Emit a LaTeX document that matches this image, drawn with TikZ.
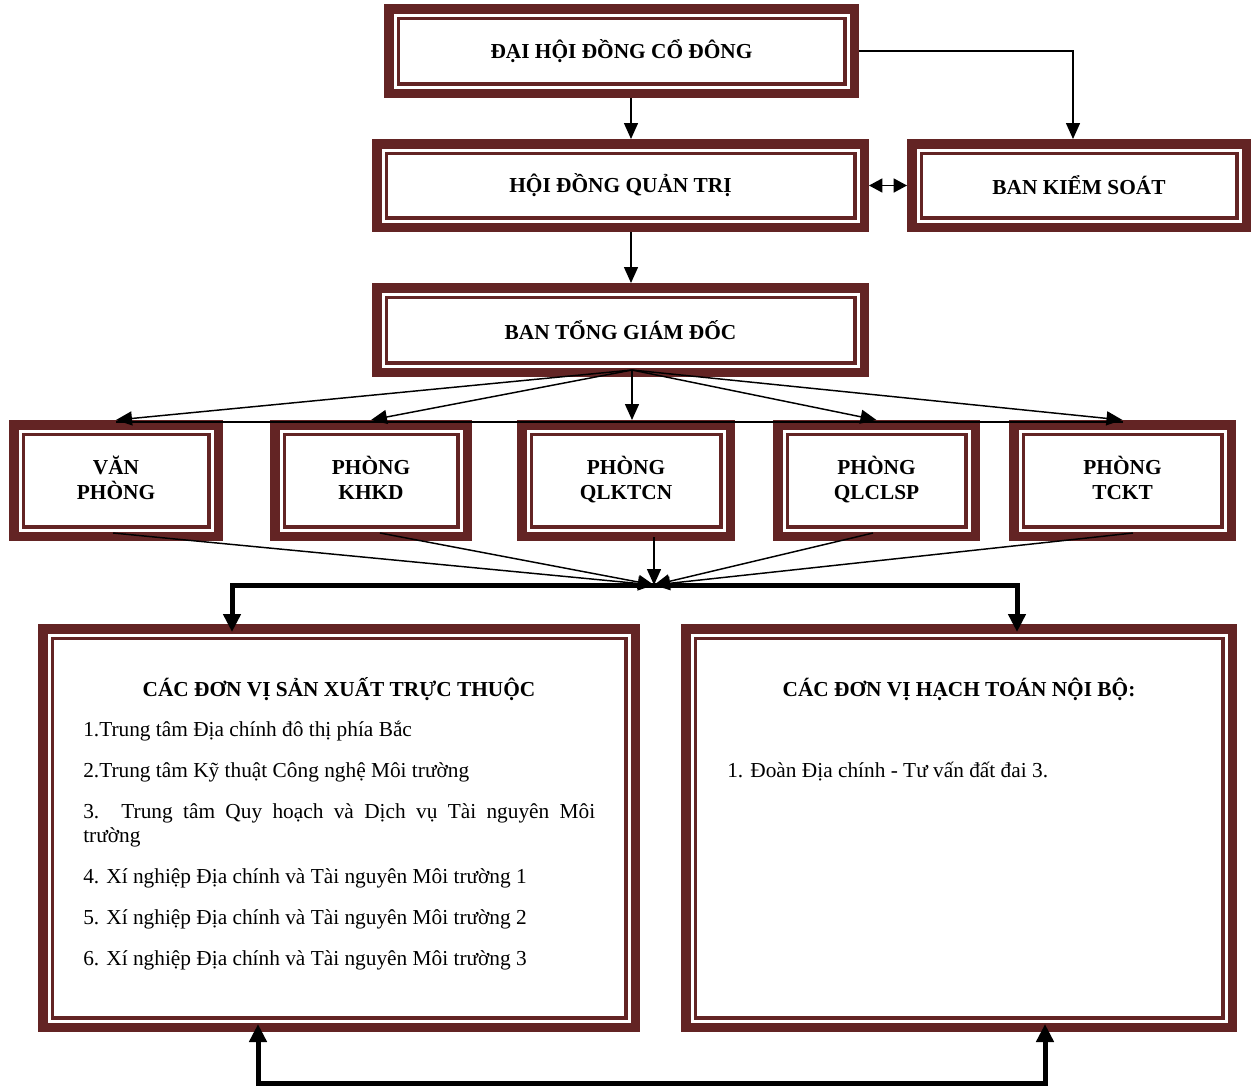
\documentclass[tikz,border=0pt]{standalone}
\usepackage{fontspec}
\setmainfont{Liberation Serif}
\usetikzlibrary{arrows.meta,positioning,calc}
\definecolor{boxred}{RGB}{99,36,36}
\newdimen\px \px=0.75pt
\newcommand{\headfont}{\fontsize{16}{18.75}\selectfont\bfseries}
\newcommand{\bodyfont}{\fontsize{16}{18}\selectfont\hyphenpenalty=10000 }

\begin{document}
\begin{tikzpicture}[
    x=0.75pt, y=-0.75pt,
    box/.style={draw=boxred, line width=9.5\px, fill=white, inner sep=0pt, align=center, font=\headfont,
        path picture={\draw[boxred, line width=3.5\px]
            ([shift={(9.5\px,9.5\px)}]path picture bounding box.south west) rectangle
            ([shift={(-9.5\px,-9.5\px)}]path picture bounding box.north east);}},
    dept/.style={box, minimum height=111.5\px, text height=30.75pt, text depth=3pt},
    wh/.style 2 args={minimum width=#1\px, minimum height=#2\px},
    head/.style={font=\headfont, inner sep=0pt},
    list/.style={font=\bodyfont, align=justify, inner sep=0pt},
    arrow/.style={-{Triangle[length=12pt,width=10.5pt]}, line width=1.1pt},
    darrow/.style={{Triangle[length=10pt,width=10.5pt]}-{Triangle[length=10pt,width=10.5pt]}, line width=1.1pt},
    bigarrow/.style={-{Triangle[length=13.5pt,width=12.75pt]}, line width=3.75pt, shorten >=-6pt},
    bigdarrow/.style={{Triangle[length=13.5pt,width=12.75pt]}-{Triangle[length=13.5pt,width=12.75pt]},
        line width=3.75pt, shorten >=-6pt, shorten <=-6pt},
    thinline/.style={line width=0.8pt}
]
    \useasboundingbox (0,0) rectangle (1257,1086);

    % top levels
    \node[box, wh={465.5}{84.5}] (dhdcd) at (621.5,51) {ĐẠI HỘI ĐỒNG CỔ ĐÔNG};
    \node[box, wh={487.5}{83.5}] (hdqt) at (620.5,185.5) {HỘI ĐỒNG QUẢN TRỊ};
    \node[box, wh={334.5}{83.5}, right=38\px of hdqt] (bks) {BAN KIỂM SOÁT};
    \node[box, wh={487.5}{84.5}] (btgd) at (620.5,330) {BAN TỔNG GIÁM ĐỐC};

    % departments
    \node[dept, minimum width=204.5\px] (vp) at (116,480.5) {VĂN\\PHÒNG};
    \node[dept, minimum width=192.5\px] (khkd) at (371,480.5) {PHÒNG\\KHKD};
    \node[dept, minimum width=208.5\px] (qlktcn) at (626,480.5) {PHÒNG\\QLKTCN};
    \node[dept, minimum width=197.5\px] (qlclsp) at (876.5,480.5) {PHÒNG\\QLCLSP};
    \node[dept, minimum width=217.5\px] (tckt) at (1122.5,480.5) {PHÒNG\\TCKT};

    % units
    \node[box, wh={592.5}{398.5}] (sx) at (339,828) {};
    \node[box, wh={546.5}{398.5}] (ht) at (959,828) {};
    \node[head, anchor=base] (sxhead) at (339,696) {CÁC ĐƠN VỊ SẢN XUẤT TRỰC THUỘC};
    \node[list, text width=512\px, anchor=base west] (sxlist) at (83,736) {%
        1.Trung tâm Địa chính đô thị phía Bắc\\[12.75pt]
        2.Trung tâm Kỹ thuật Công nghệ Môi trường\\[12.75pt]
        3. Trung tâm Quy hoạch và Dịch vụ Tài nguyên Môi\linebreak trường\\[12.75pt]
        4. Xí nghiệp Địa chính và Tài nguyên Môi trường 1\\[12.75pt]
        5. Xí nghiệp Địa chính và Tài nguyên Môi trường 2\\[12.75pt]
        6. Xí nghiệp Địa chính và Tài nguyên Môi trường 3};
    \node[head, anchor=base] (hthead) at (959,696) {CÁC ĐƠN VỊ HẠCH TOÁN NỘI BỘ:};
    \node[list, text width=466\px, anchor=base west] (htlist) at (727,777) {1. Đoàn Địa chính - Tư vấn đất đai 3.};

    % links
    \draw[arrow] ([xshift=9.5\px]dhdcd.south) -- ([xshift=9.5\px]dhdcd.south |- hdqt.north);
    \draw[arrow] (dhdcd.east) -| ([xshift=-6\px]bks.north);
    \draw[darrow] (hdqt.east) -- (bks.west);
    \draw[arrow] ([xshift=10.5\px]hdqt.south) -- ([xshift=10.5\px]hdqt.south |- btgd.north);

    \coordinate (fan) at ([xshift=11.5\px,yshift=7\px]btgd.south);
    \foreach \n in {vp,khkd,qlclsp,tckt}
        \draw[arrow] (fan) -- (\n.north);
    \draw[arrow] (fan) -- (fan |- qlktcn.north);
    \draw[thinline] ([yshift=-2\px]vp.north) -- ([yshift=-2\px]tckt.north);

    \coordinate (merge) at (654,585);
    \foreach \n/\s in {vp/-3,khkd/9,qlclsp/-3.5,tckt/10.5}
        \draw[arrow] ([xshift=\s\px,yshift=8\px]\n.south) -- (merge);
    \draw[arrow] ([yshift=4\px]qlktcn.south -| merge) -- (merge);

    \draw[bigarrow] (merge) -| ([xshift=-107\px]sx.north);
    \draw[bigarrow] (merge) -| ([xshift=58\px]ht.north);
    \draw[bigdarrow] ([xshift=-81\px]sx.south) -- ++(0,51) -| ([xshift=86\px]ht.south);
\end{tikzpicture}
\end{document}
